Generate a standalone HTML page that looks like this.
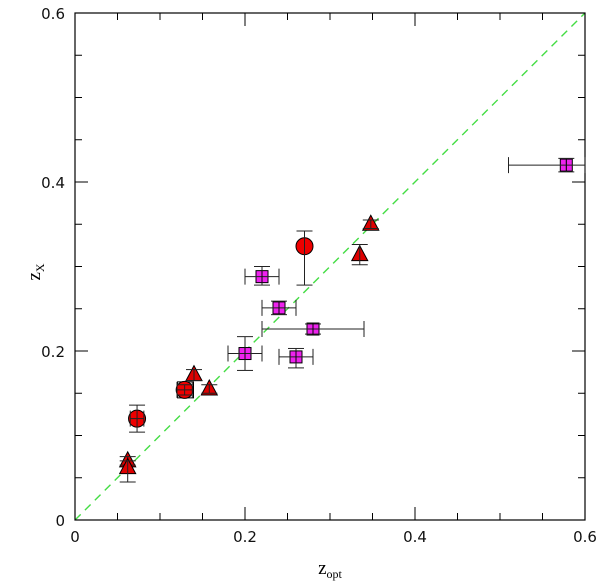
<!DOCTYPE html>
<html><head><meta charset="utf-8"><style>body{margin:0;background:#fff}svg{display:block}</style></head>
<body>
<svg id="c" width="600" height="582" xmlns="http://www.w3.org/2000/svg"></svg>
<script>
const triX=[0.062,0.062,0.14,0.158,0.335,0.348];
const triY=[0.07,0.062,0.172,0.155,0.314,0.35];
const triYlo=[0.065,0.045,0.165,0.15,0.302,0.345];
const triYhi=[0.075,0.07,0.178,0.16,0.326,0.355];
const cirX=[0.073,0.129,0.27];
const cirY=[0.12,0.154,0.324];
const cirYlo=[0.104,0.148,0.278];
const cirYhi=[0.136,0.16,0.342];
const cirXlo=[0.065,0.12,0.27];
const cirXhi=[0.081,0.138,0.27];
const sqX=[0.13,0.22,0.24,0.28,0.2,0.26,0.578];
const sqY=[0.154,0.288,0.251,0.226,0.197,0.193,0.42];
const sqXlo=[0.13,0.2,0.22,0.22,0.18,0.24,0.51];
const sqXhi=[0.13,0.24,0.26,0.34,0.22,0.28,0.6];
const sqYlo=[0.154,0.278,0.243,0.22,0.177,0.18,0.412];
const sqYhi=[0.154,0.3,0.259,0.232,0.217,0.203,0.428];
const majorTicks=[0,0.2,0.4,0.6];
const tickLabels=["0","0.2","0.4","0.6"];
const minorTicks=[0.05,0.1,0.15,0.25,0.3,0.35,0.45,0.5,0.55];

const L=75,R=585,T=13,B=520;
const sx=v=>L+v/0.6*(R-L), sy=v=>B-v/0.6*(B-T);
const svg=document.getElementById('c');
const NS='http://www.w3.org/2000/svg';
function mk(tag,attrs,name,parent){const e=document.createElementNS(NS,tag);for(const k in attrs)e.setAttribute(k,attrs[k]);


(parent||svg).appendChild(e);return e;}
mk('line',{x1:sx(0),y1:sy(0),x2:sx(0.6),y2:sy(0.6),stroke:'#44dd44','stroke-width':1.4,'stroke-dasharray':'8,6'},'one-to-one-line');
mk('rect',{x:L,y:T,width:R-L,height:B-T,fill:'none',stroke:'#000','stroke-width':1.2},'plot-frame');
const tg=mk('g',{stroke:'#000','stroke-width':1},'ticks');
function ticks(vals,len){vals.forEach(v=>{
mk('line',{x1:sx(v),y1:B,x2:sx(v),y2:B-len},'x-tick',tg);
mk('line',{x1:sx(v),y1:T,x2:sx(v),y2:T+len},'x-tick-top',tg);
mk('line',{x1:L,y1:sy(v),x2:L+len,y2:sy(v)},'y-tick',tg);
mk('line',{x1:R,y1:sy(v),x2:R-len,y2:sy(v)},'y-tick-right',tg);});}
ticks(majorTicks,13);ticks(minorTicks,7);
majorTicks.forEach((v,i)=>{
const a=mk('text',{x:sx(v),y:B+22,'text-anchor':'middle','font-family':'DejaVu Sans, sans-serif','font-size':15,fill:'#111'},'x-tick-label');a.textContent=tickLabels[i];
const b=mk('text',{x:L-10,y:sy(v)+6,'text-anchor':'end','font-family':'DejaVu Sans, sans-serif','font-size':15,fill:'#111'},'y-tick-label');b.textContent=tickLabels[i];});
const xt=mk('text',{x:330,y:574,'text-anchor':'middle','font-family':'Liberation Serif, serif','font-size':19},'x-axis-title');
xt.innerHTML='z<tspan font-size="12" dy="4">opt</tspan>';
const yt=mk('text',{x:0,y:0,transform:'translate(40,272) rotate(-90)','text-anchor':'middle','font-family':'Liberation Serif, serif','font-size':19},'y-axis-title');
yt.innerHTML='z<tspan font-size="12" dy="4">X</tspan>';
function err(x1,y1,x2,y2,vert){const g=mk('g',{stroke:'#222','stroke-width':1},'error-bar');
mk('line',{x1,y1,x2,y2},'error-line',g);
const c=8;if(vert){mk('line',{x1:x1-c,y1,x2:x1+c,y2:y1},'error-cap',g);mk('line',{x1:x2-c,y1:y2,x2:x2+c,y2},'error-cap',g);}
else{mk('line',{x1,y1:y1-c,x2:x1,y2:y1+c},'error-cap',g);mk('line',{x1:x2,y1:y2-c,x2,y2:y2+c},'error-cap',g);}}
sqX.forEach((v,i)=>{const x=sx(v),y=sy(sqY[i]);const h=i===0?8:6;
mk('rect',{x:x-h,y:y-h,width:2*h,height:2*h,fill:i===0?'none':'#ee22ee',stroke:'#000','stroke-width':1},'square-point');
if(sqXhi[i]>sqXlo[i])err(sx(sqXlo[i]),y,sx(sqXhi[i]),y,false);
if(sqYhi[i]>sqYlo[i])err(x,sy(sqYlo[i]),x,sy(sqYhi[i]),true);
mk('line',{x1:x,y1:y-h,x2:x,y2:y+h,stroke:'#000','stroke-width':0.8},'square-cross');});
cirX.forEach((v,i)=>{const x=sx(v),y=sy(cirY[i]);
mk('circle',{cx:x,cy:y,r:8.5,fill:'#ee0000',stroke:'#000','stroke-width':1},'circle-point');
err(x,sy(cirYlo[i]),x,sy(cirYhi[i]),true);
if(cirXhi[i]>cirXlo[i])err(sx(cirXlo[i]),y,sx(cirXhi[i]),y,false);});
triX.forEach((v,i)=>{const x=sx(v),y=sy(triY[i]);
mk('polygon',{points:`${x},${y-9} ${x-8},${y+6} ${x+8},${y+6}`,fill:'#dd0000',stroke:'#000','stroke-width':1},'triangle-point');
err(x,sy(triYlo[i]),x,sy(triYhi[i]),true);});
</script>
</body></html>
